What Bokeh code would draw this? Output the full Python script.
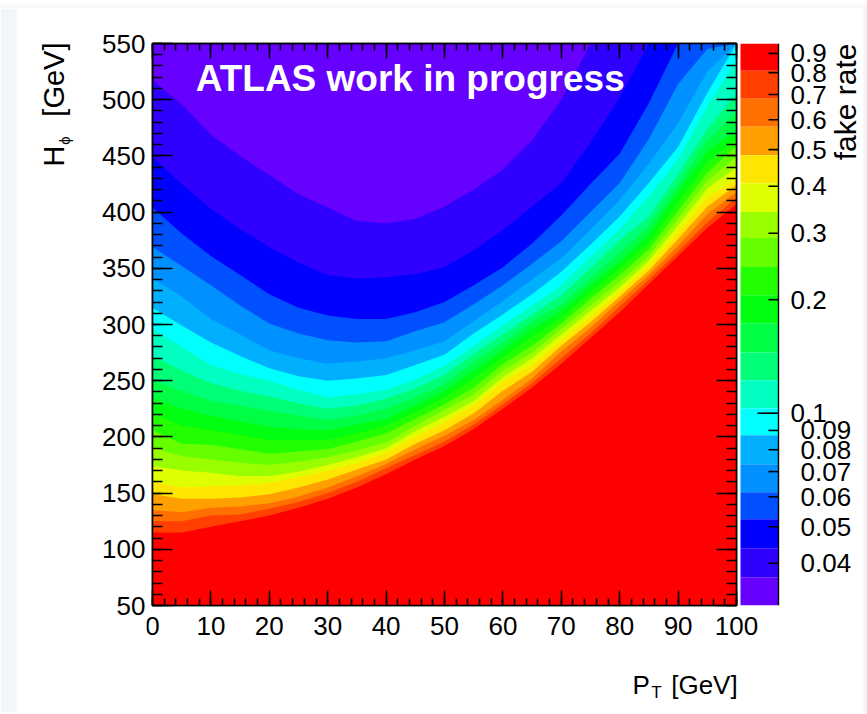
from bokeh.plotting import figure
from bokeh.layouts import row, column
from bokeh.models import Range1d, LinearAxis, SingleIntervalTicker, Label
from bokeh.core.properties import value
from bokeh.embed import file_html
from bokeh.resources import INLINE

pt_columns = [0,5,10,15,20,25,30,35,40,45,50,55,60,65,70,75,80,85,90,95,100]

# H_phi value of each colour boundary, one list per P_T column.
# order: red edge first, violet edge last (clipped at 550 where it leaves the frame)
col_000 = [115,125,135,149,160,174,190,206,221,235,250,272,296,315,341,369,404,449,517]
col_005 = [115,125,133,145,155,170,183,194,210,225,241,259,280,299,325,352,381,425,496]
col_010 = [120,130,137,145,156,168,180,193,206,219,232,248,264,284,305,335,361,403,469]
col_015 = [125,131,138,146,157,165,177,189,202,214,228,241,256,272,291,317,344,385,450]
col_020 = [130,136,141,149,159,165,175,185,197,209,223,236,250,261,277,301,327,369,433]
col_025 = [137,142,147,155,164,169,178,187,197,207,219,230,242,254,270,292,315,355,416]
col_030 = [145,150,155,162,170,175,182,189,197,206,215,225,235,250,265,286,308,344,404]
col_035 = [155,160,165,171,177,182,188,196,203,211,219,228,238,252,267,284,305,341,392]
col_040 = [167,172,176,180,186,190,195,203,210,216,225,234,242,255,270,285,305,342,390]
col_045 = [180,184,189,194,200,205,210,216,222,228,235,243,251,264,277,294,311,345,394]
col_050 = [192,196,201,206,213,218,224,229,235,241,247,255,263,273,285,302,320,351,405]
col_055 = [207,211,215,221,228,232,238,244,252,259,267,274,281,292,303,318,335,366,420]
col_060 = [225,229,233,241,249,253,259,265,271,277,284,291,299,309,321,335,351,384,438]
col_065 = [244,248,252,258,264,270,275,281,289,296,303,309,317,327,340,354,372,405,464]
col_070 = [265,270,276,281,286,291,296,301,306,312,318,326,335,347,359,374,397,426,500]
col_075 = [288,292,297,302,307,312,317,323,329,335,341,350,360,371,384,400,425,462,550]
col_080 = [311,316,321,325,329,333,338,344,350,356,364,375,385,396,411,426,452,502,550]
col_085 = [336,340,344,348,352,357,361,367,373,380,388,396,414,426,443,465,497,550,550]
col_090 = [361,365,370,376,382,388,394,401,409,418,425,434,447,458,479,514,550,550,550]
col_095 = [386,391,398,405,413,421,428,435,444,454,464,474,494,506,525,545,550,550,550]
col_100 = [407,413,418,424,430,440,449,459,465,473,489,505,535,550,550,550,550,550,550]
columns = [col_000,col_005,col_010,col_015,col_020,col_025,col_030,col_035,col_040,col_045,col_050,
           col_055,col_060,col_065,col_070,col_075,col_080,col_085,col_090,col_095,col_100]

band_colors = ["#ff0000","#ff4000","#ff7000","#ffa000","#ffe600","#dfff00","#99ff00","#66ff00","#22ff00","#00ff11",
               "#00ff44","#00ff77","#00ffc0","#00ffff","#00b0ff","#0090ff","#0050ff","#0000ff","#3000ff","#6600ff"]
band_edges = [0.956,0.809,0.682,0.5746,0.4832,0.407,0.3414,0.2914,0.244,0.2056,0.1733,0.145,0.1223,0.1031,
              0.0874,0.0732,0.0617,0.0523,0.0438,0.0367,0.0309]
bar_ticks = [0.04,0.05,0.06,0.07,0.08,0.09,0.1,0.2,0.3,0.4,0.5,0.6,0.7,0.8,0.9]
bar_labels = ["0.04","0.05","0.06","0.07","0.08","0.09","0.1","0.2","0.3","0.4","0.5","0.6","0.7","0.8","0.9"]
x_tick_values = [0,10,20,30,40,50,60,70,80,90,100]
y_tick_values = [50,100,150,200,250,300,350,400,450,500,550]

SANS = "Liberation Sans"
TICK = "26px"
PALE_TOP = "#f8f8f8"
PALE_LEFT = "#f1f7f8"
PALE_RIGHT = "#edf6f8"
ROW_H = 599   # page y 8 .. 607
PX_PER_GEV_X = 5.84
PX_PER_GEV_Y = 1.124

def v_of(py):
    return 50 + (605 - py) / PX_PER_GEV_Y

def plain(w, h, xr, yr, bg="white"):
    f = figure(width=w, height=h, x_range=xr, y_range=yr, output_backend="svg", toolbar_location=None, tools="",
               x_axis_location=None, y_axis_location=None,
               min_border_left=0, min_border_right=0, min_border_top=0, min_border_bottom=0,
               outline_line_color=None, border_fill_color=bg, background_fill_color=bg)
    f.grid.visible = False
    f.frame_align = False
    return f

# ---- main histogram
p = figure(width=592, height=ROW_H, x_range=Range1d(0,100), y_range=Range1d(50,550),
           output_backend="svg", toolbar_location=None, tools="",
           min_border_left=6, min_border_right=2, min_border_top=35, min_border_bottom=2,
           x_axis_location="below", y_axis_location="left",
           background_fill_color=band_colors[-1], border_fill_color="white",
           outline_line_color="black", outline_line_width=1.5)
p.grid.visible = False
p.frame_align = False

for k in range(18, -1, -1):
    p.varea(x=pt_columns, y1=[50]*len(pt_columns), y2=[c[k] for c in columns], fill_color=band_colors[k])

xt = SingleIntervalTicker(interval=10, num_minor_ticks=5)
yt = SingleIntervalTicker(interval=50, num_minor_ticks=5)

def style(ax, major, minor):
    ax.major_tick_in = major; ax.major_tick_out = 0
    ax.minor_tick_in = minor; ax.minor_tick_out = 0
    ax.major_tick_line_color = "black"; ax.minor_tick_line_color = "black"
    ax.major_tick_line_width = 1.6; ax.minor_tick_line_width = 1.6
    ax.axis_line_color = "black"; ax.axis_line_width = 1.6
    ax.major_label_text_color = None
    ax.major_label_text_font_size = "0px"
    ax.major_label_standoff = 0

p.xaxis[0].ticker = xt
p.yaxis[0].ticker = yt
style(p.xaxis[0], 15, 7)
style(p.yaxis[0], 20, 10)
top = LinearAxis(ticker=xt); style(top, 15, 7); p.add_layout(top, "above")
right = LinearAxis(ticker=yt); style(right, 20, 10); p.add_layout(right, "right")
p.min_border_top = 35; p.min_border_right = 2; p.min_border_bottom = 2; p.min_border_left = 6

p.add_layout(Label(x=7.4, y=519, text="ATLAS work in progress", text_font=SANS, text_font_style="bold",
                   text_font_size="37px", text_color="white", text_baseline="middle"))

# ---- colour bar
cb = figure(width=125, height=ROW_H, x_range=Range1d(-2,123), y_range=Range1d(band_edges[-1], band_edges[0]),
            y_axis_type="log", output_backend="svg", toolbar_location=None, tools="",
            x_axis_location=None, y_axis_location=None,
            min_border_left=0, min_border_right=0, min_border_top=35, min_border_bottom=2,
            outline_line_color=None, border_fill_color="white", background_fill_color="white")
cb.grid.visible = False
cb.frame_align = False
cb.quad(left=0, right=38, top=band_edges[:-1], bottom=band_edges[1:], fill_color=band_colors, line_color=None)
cb.segment(x0=[38], y0=[band_edges[-1]], x1=[38], y1=[band_edges[0]], line_color="black", line_width=1.4)
for t, s in zip(bar_ticks, bar_labels):
    is_long = s == "0.1"
    cb.segment(x0=[38], x1=[17 if is_long else 28], y0=[t], y1=[t], line_color="black", line_width=1.6)
    cb.text(x=[50 if len(s) == 3 else 60], y=[t], text=[s], text_font=value(SANS), text_font_size=TICK,
            text_color="black", text_baseline="middle", text_align="left")
cb.text(x=[105], y=[band_edges[0]], text=["fake rate"], angle=1.5708, text_font=value(SANS), text_font_size="30px",
        text_color="black", text_baseline="middle", text_align="right")

# ---- left strip: y tick labels and rotated axis title, y in GeV
left = plain(146, 704, Range1d(0,146), Range1d(v_of(712), v_of(8)))
left.quad(left=[0], right=[16], top=[v_of(8)], bottom=[v_of(712)], fill_color=PALE_LEFT, line_color=None)
left.text(x=[145]*len(y_tick_values), y=y_tick_values, text=[str(v) for v in y_tick_values], text_font=value(SANS),
          text_font_size=TICK, text_baseline="middle", text_align="right", text_color="black")
left.text(x=[53], y=[v_of(42)], text=["[GeV]"], angle=1.5708, text_font=value(SANS), text_font_size="29px",
          text_baseline="middle", text_align="right", text_color="black")
left.text(x=[53], y=[v_of(166)], text=["H"], angle=1.5708, text_font=value(SANS), text_font_size="29px",
          text_baseline="middle", text_align="left", text_color="black")
left.text(x=[64], y=[v_of(140)], text=["\u03d5"], angle=1.5708, text_font=value(SANS), text_font_size="15px",
          text_baseline="middle", text_align="center", text_color="black")

# ---- bottom strip: x tick labels and axis title, x in GeV, y = minus page pixel
bottom = plain(721, 105, Range1d((146-152)/PX_PER_GEV_X, (867-152)/PX_PER_GEV_X), Range1d(-712,-607))
bottom.quad(left=[(863-152)/PX_PER_GEV_X], right=[(867-152)/PX_PER_GEV_X], top=[-607], bottom=[-712],
            fill_color=PALE_RIGHT, line_color=None)
bottom.text(x=x_tick_values, y=[-625]*len(x_tick_values), text=[str(v) for v in x_tick_values], text_font=value(SANS),
            text_font_size=TICK, text_baseline="middle", text_align="center", text_color="black")
bottom.text(x=[82.2], y=[-684], text=["P"], text_font=value(SANS), text_font_size="26px",
            text_baseline="middle", text_align="left", text_color="black")
bottom.text(x=[85.4], y=[-692], text=["T"], text_font=value(SANS), text_font_size="17px",
            text_baseline="middle", text_align="left", text_color="black")
bottom.text(x=[100.2], y=[-684], text=["[GeV]"], text_font=value(SANS), text_font_size="26px",
            text_baseline="middle", text_align="right", text_color="black")

top_strip = plain(867, 8, Range1d(0,1), Range1d(0,1), bg=PALE_TOP)
right_strip = plain(4, ROW_H, Range1d(0,1), Range1d(0,1), bg=PALE_RIGHT)

page = column(top_strip,
              row(left, column(row(p, cb, right_strip, spacing=0), bottom, spacing=0), spacing=0),
              spacing=0)
open("out.html", "w").write(file_html(page, INLINE))
